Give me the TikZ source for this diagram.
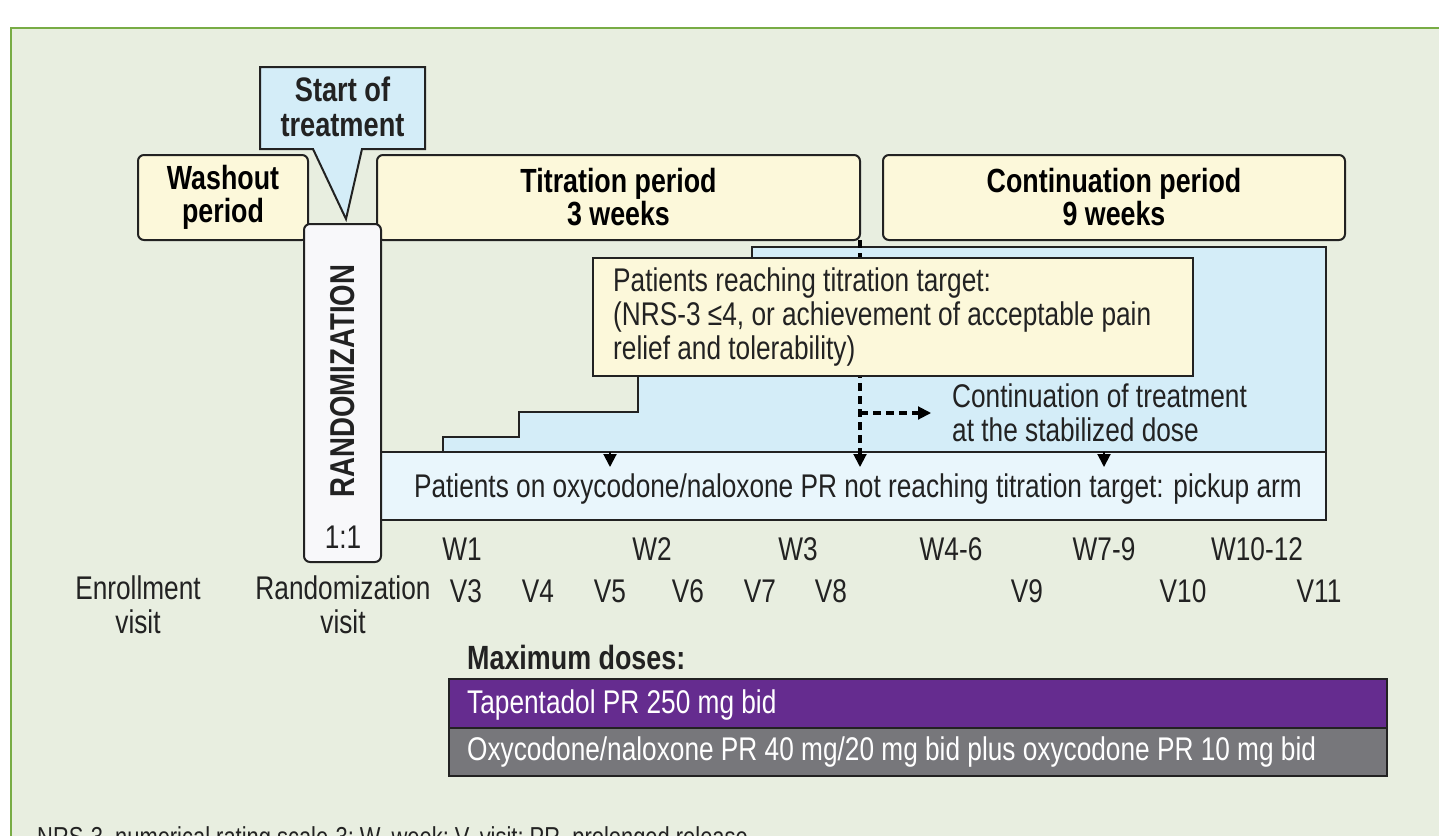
\documentclass[tikz,border=0pt]{standalone}
\usepackage{fontspec}
\setmainfont{Liberation Sans}[FakeStretch=0.8]
\usetikzlibrary{arrows.meta}
\definecolor{bgc}{HTML}{E8EEE0}
\definecolor{framec}{HTML}{78AC45}
\definecolor{yelc}{HTML}{FCF8DA}
\definecolor{bluec}{HTML}{D4EDF8}
\definecolor{lbluec}{HTML}{E9F6FC}
\definecolor{whc}{HTML}{F8F8FA}
\definecolor{purc}{HTML}{652C8F}
\definecolor{grayc}{HTML}{77777B}
\definecolor{txtc}{HTML}{222222}
\tikzset{
  ln/.style={draw=txtc, line width=2pt},
  period/.style={ln, fill=yelc, rounded corners=6pt, align=center, inner sep=0pt,
     font=\bfseries\fontsize{33.5}{33}\selectfont},
  bodytxt/.style={font=\fontsize{32.8}{34}\selectfont, text=txtc, inner sep=0pt},
  bar/.style={ln, inner sep=0pt},
  tri/.style={-{Triangle[width=13pt,length=13pt]}, line width=2pt, draw=black},
  dsh/.style={line width=3.5pt, dash pattern=on 8pt off 5pt, draw=black},
}
\begin{document}
\begin{tikzpicture}[x=1pt,y=-1pt]
\useasboundingbox (0,0) rectangle (1439,835);
\clip (0,0) rectangle (1439,835);
\fill[white] (0,0) rectangle (1439,835);
\draw[draw=framec, fill=bgc, line width=2.5pt] (11,28) rectangle (1470,900);

% period boxes
\node[period, minimum width=170pt, minimum height=85pt] (wash) at (223,197.5) {Washout\\period};
\node[period, minimum width=483pt, minimum height=85pt] (titr) at (618.5,197.5) {Titration period\\3 weeks};
\node[period, minimum width=462pt, minimum height=85pt] (cont) at (1114,197.5) {Continuation period\\9 weeks};

% staircase
\draw[ln, fill=bluec] (443,452) -- (443,437) -- (519,437) -- (519,412) -- (638,412) -- (638,300)
   -- (752,300) -- (752,247) -- (1326,247) -- (1326,452) -- cycle;

% pickup bar
\node[ln, fill=lbluec, minimum width=945pt, minimum height=68pt, inner sep=0pt] (pick) at (853.5,486) {};
\node[bodytxt] (picktxt) at (858,489) {Patients on oxycodone/naloxone PR not reaching titration target: pickup arm};

% randomization
\node[ln, fill=whc, rounded corners=6pt, minimum width=77pt, minimum height=338pt, inner sep=0pt] (rand) at (342.5,393) {};
\node[rotate=90, font=\bfseries\fontsize{34.5}{33}\selectfont, text=txtc, inner sep=0pt] (randtxt) at (343,381) {RANDOMIZATION};
\node[bodytxt] (ratio) at (343,537) {1:1};

% start of treatment callout
\draw[ln, fill=bluec, line join=miter] (260,67) -- (425,67) -- (425,149) -- (362,149) -- (346,219) -- (313,149) -- (260,149) -- cycle;
\node[align=center, font=\bfseries\fontsize{34}{35}\selectfont, text=txtc, inner sep=0pt] (start) at (342.5,107) {Start of\\treatment};

% dashed line and arrows
\coordinate (dtop) at (860,240);
\coordinate (dbot) at (860,467);
\coordinate (dmid) at (860,413);
\coordinate (dend) at (931,413);
\draw[dsh] (dtop) -- (860,455);
\draw[tri] (860,452) -- (dbot);
\draw[dsh] (dmid) -- (918,413);
\draw[-{Triangle[width=13pt,length=13pt]}, line width=2pt] (914,413) -- (dend);
\coordinate (a1) at (610,452);
\coordinate (a1e) at (610,467);
\coordinate (a2) at (1104,452);
\coordinate (a2e) at (1104,467);
\draw[tri] (a1) -- (a1e);
\draw[tri] (a2) -- (a2e);

% yellow target box
\node[ln, fill=yelc, minimum width=600pt, minimum height=118pt, inner sep=0pt] (target) at (893,317) {};
\node[bodytxt, anchor=north west, align=left] (targettxt) at (613,268) {Patients reaching titration target:\\(NRS-3 ≤4, or achievement of acceptable pain\\relief and tolerability)};

\node[bodytxt, anchor=west, align=left] (conttxt) at (952,413) {Continuation of treatment\\at the stabilized dose};

% week labels
\foreach \t/\x in {W1/462, W2/652, W3/798, W4-6/951, W7-9/1104, W10-12/1257}
  \node[bodytxt] (w\x) at (\x,549) {\t};
% visit labels
\foreach \t/\x in {V3/466, V4/538, V5/610, V6/688, V7/760, V8/831, V9/1027, V10/1183, V11/1319}
  \node[bodytxt] (v\x) at (\x,591) {\t};
\node[bodytxt, align=center, anchor=north] (enr) at (138,576) {Enrollment\\visit};
\node[bodytxt, align=center, anchor=north] (rvis) at (343,576) {Randomization\\visit};

% maximum doses
\node[bodytxt, anchor=west, font=\bfseries\fontsize{33.6}{33}\selectfont] (maxd) at (467,657) {Maximum doses:};
\node[bar, fill=purc, minimum width=938pt, minimum height=49pt] (tap) at (918,703.5) {};
\node[bodytxt, text=white, anchor=west] (taptxt) at (467,705) {Tapentadol PR 250 mg bid};
\node[bar, fill=grayc, minimum width=938pt, minimum height=48pt] (oxy) at (918,752) {};
\node[bodytxt, text=white, anchor=west] (oxytxt) at (467,752) {Oxycodone/naloxone PR 40 mg/20 mg bid plus oxycodone PR 10 mg bid};

% footnote (cut off at the lower edge, as in the original)
\node[bodytxt, anchor=base west, font=\fontsize{27.4}{30}\selectfont] (foot) at (37,846) {NRS-3, numerical rating scale-3; W, week; V, visit; PR, prolonged release.};
\end{tikzpicture}
\end{document}
